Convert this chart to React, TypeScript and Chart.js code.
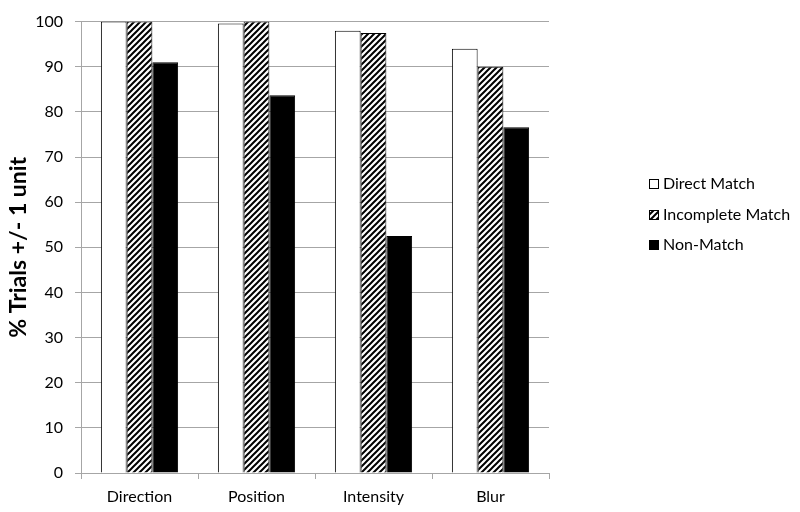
import React, { useEffect, useRef } from "react";
import { Chart, registerables } from "chart.js";

Chart.register(...registerables);

const categories = ["Direction", "Position", "Intensity", "Blur"];
const seriesNames = ["Direct Match", "Incomplete Match", "Non-Match"];
const directMatch = [100, 99.6, 98, 94];
const incompleteMatch = [100, 100, 97.5, 90];
const nonMatch = [91, 83.7, 52.5, 76.6];
const yAxisTitle = "% Trials +/- 1 unit";

const FONT = "Lato, 'Open Sans', sans-serif";
const GRID = "#a6a6a6";

function makeHatch(): CanvasPattern | string {
  const c = document.createElement("canvas");
  const s = 6;
  c.width = s;
  c.height = s;
  const g = c.getContext("2d");
  if (!g) return "#888";
  g.fillStyle = "#ffffff";
  g.fillRect(0, 0, s, s);
  g.strokeStyle = "#000000";
  g.lineWidth = 2;
  g.beginPath();
  g.moveTo(-1, s + 1);
  g.lineTo(s + 1, -1);
  g.moveTo(-1, 1);
  g.lineTo(1, -1);
  g.moveTo(s - 1, s + 1);
  g.lineTo(s + 1, s - 1);
  g.stroke();
  const p = g.createPattern(c, "repeat");
  return p || "#888";
}

export default function App() {
  const ref = useRef<HTMLCanvasElement | null>(null);

  useEffect(() => {
    if (!ref.current) return;
    const hatch = makeHatch();
    const fills: any[] = ["#ffffff", hatch, "#000000"];

    const legendPlugin = {
      id: "customLegend",
      afterDraw(chart: any) {
        const ctx = chart.ctx;
        ctx.save();
        const ys = [184, 215, 245];
        chart.data.datasets.forEach((ds: any, i: number) => {
          const y = ys[i];
          const bx = 649;
          const size = 10;
          ctx.fillStyle = fills[i];
          ctx.fillRect(bx, y - size / 2, size, size);
          ctx.strokeStyle = "#000";
          ctx.lineWidth = 1;
          ctx.strokeRect(bx + 0.5, y - size / 2 + 0.5, size - 1, size - 1);
          ctx.fillStyle = "#000";
          ctx.font = `16px ${FONT}`;
          ctx.textBaseline = "middle";
          ctx.textAlign = "left";
          ctx.fillText(ds.label, 663, y);
        });
        ctx.restore();
      },
    };

    const chart = new Chart(ref.current, {
      type: "bar",
      data: {
        labels: categories,
        datasets: [
          {
            label: seriesNames[0],
            data: directMatch,
            backgroundColor: fills[0],
            borderColor: "#000",
            borderWidth: 1,
          },
          {
            label: seriesNames[1],
            data: incompleteMatch,
            backgroundColor: fills[1],
            borderColor: "#000",
            borderWidth: 1,
          },
          {
            label: seriesNames[2],
            data: nonMatch,
            backgroundColor: fills[2],
            borderColor: "#000",
            borderWidth: 1,
          },
        ],
      },
      options: {
        animation: false,
        responsive: false,
        layout: { padding: { left: 0, top: 12, right: 251, bottom: 0 } },
        datasets: {
          bar: { categoryPercentage: 0.66, barPercentage: 1.0 },
        },
        plugins: {
          legend: { display: false },
          tooltip: { enabled: false },
        },
        scales: {
          x: {
            grid: {
              display: true,
              offset: true,
              drawOnChartArea: false,
              drawTicks: true,
              tickLength: 6,
              color: GRID,
            },
            border: { display: true, color: GRID },
            ticks: {
              color: "#000",
              font: { family: FONT, size: 16 },
              padding: 8,
            },
            afterFit(scale: any) {
              scale.height = 39;
            },
          },
          y: {
            min: 0,
            max: 100,
            ticks: {
              stepSize: 10,
              color: "#000",
              font: { family: FONT, size: 16 },
              padding: 12,
            },
            grid: { color: GRID, tickLength: 6, drawTicks: true },
            border: { display: true, color: GRID },
            title: {
              display: true,
              text: yAxisTitle,
              color: "#000",
              font: { family: FONT, size: 23, weight: "bold" },
              padding: { top: 5, bottom: 0 },
            },
            afterFit(scale: any) {
              scale.width = 81;
            },
          },
        },
      },
      plugins: [legendPlugin],
    } as any);

    return () => chart.destroy();
  }, []);

  return (
    <div style={{ position: "absolute", left: 0, top: 0, width: 800, height: 512, background: "#fff" }}>
      <canvas ref={ref} width={800} height={512} style={{ width: 800, height: 512, display: "block" }} />
    </div>
  );
}
